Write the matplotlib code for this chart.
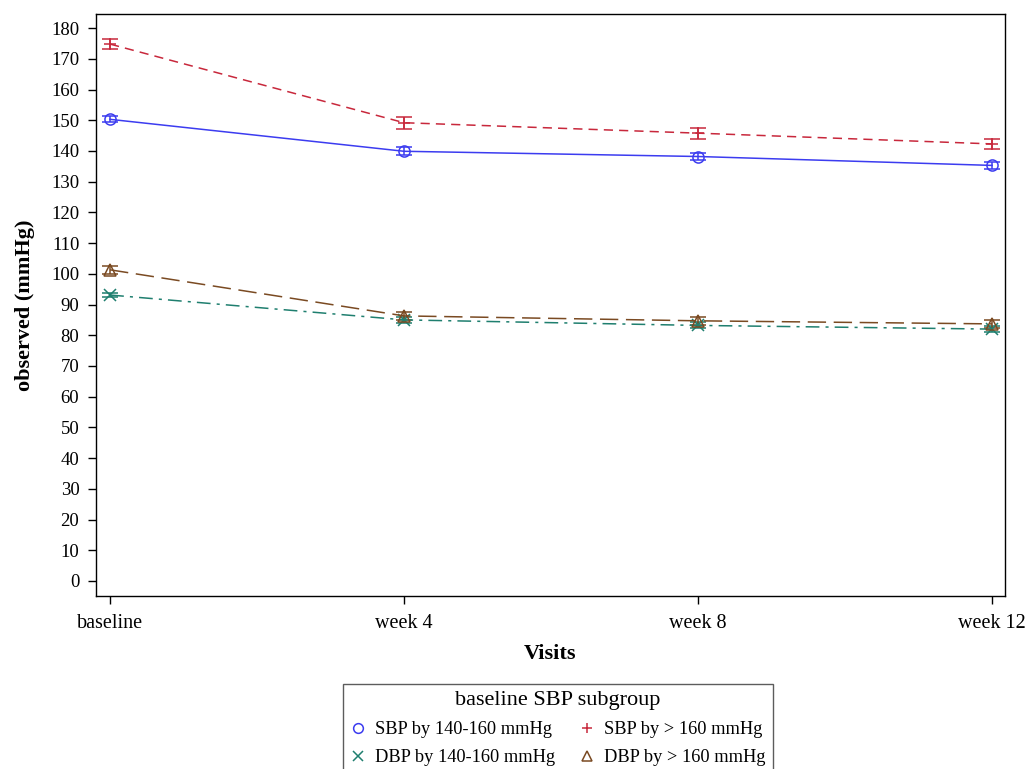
import matplotlib.pyplot as plt
import numpy as np

plt.rcParams['font.family'] = ['Liberation Serif', 'DejaVu Serif']

visits = ["baseline", "week 4", "week 8", "week 12"]

sbp_140_160 = [150.3, 139.9, 138.2, 135.3]
sbp_140_160_err = [1.0, 1.3, 1.3, 1.2]
sbp_gt_160 = [174.8, 149.2, 145.8, 142.3]
sbp_gt_160_err = [1.5, 2.0, 1.8, 1.7]
dbp_140_160 = [93.1, 85.0, 83.2, 82.0]
dbp_140_160_err = [0.8, 1.0, 1.0, 1.0]
dbp_gt_160 = [101.3, 86.3, 84.7, 83.7]
dbp_gt_160_err = [1.4, 1.3, 1.2, 1.2]

x = np.arange(len(visits))

fig = plt.figure(figsize=(10.27, 7.69), dpi=100)
ax = fig.add_axes([96 / 1027, 1 - 596 / 769, (1005 - 96) / 1027, (596 - 14) / 769])

series = [
    (sbp_140_160, sbp_140_160_err, "SBP by 140-160 mmHg", "#3c3cf0", "-", "o"),
    (sbp_gt_160, sbp_gt_160_err, "SBP by > 160 mmHg", "#c8283c", (0, (6, 4)), "+"),
    (dbp_140_160, dbp_140_160_err, "DBP by 140-160 mmHg", "#1f7f6f", (0, (9, 4, 2, 4)), "x"),
    (dbp_gt_160, dbp_gt_160_err, "DBP by > 160 mmHg", "#7a4a22", (0, (12, 5)), "^"),
]

handles = {}
for vals, err, lab, col, ls, mk in series:
    ax.errorbar(x, vals, yerr=err, color=col, linestyle=ls, linewidth=1.1,
                capsize=6, elinewidth=1.1, capthick=1.1,
                marker=mk, markersize=8, markerfacecolor='none', markeredgecolor=col,
                markeredgewidth=1.1)
    h, = ax.plot([], [], linestyle='none', marker=mk, markersize=7,
                 markerfacecolor='none', markeredgecolor=col, markeredgewidth=1.1)
    handles[lab] = h

ax.set_xlim(-0.048, 3.044)
ax.set_ylim(-4.9, 184.6)
ax.set_yticks(np.arange(0, 181, 10))
ax.set_xticks(x)
ax.set_xticklabels(visits)
ax.tick_params(axis='y', labelsize=13.5, length=6, width=1, pad=6)
ax.tick_params(axis='x', labelsize=14.5, length=6, width=1, pad=7)
ax.set_xlabel("Visits", fontsize=16, fontweight='bold', labelpad=8)
ax.set_ylabel("observed (mmHg)", fontsize=16, fontweight='bold', labelpad=12)
for s in ax.spines.values():
    s.set_linewidth(1)

order = ["SBP by 140-160 mmHg", "DBP by 140-160 mmHg", "SBP by > 160 mmHg", "DBP by > 160 mmHg"]
leg = fig.legend([handles[k] for k in order], order, ncol=2, loc='upper center',
                 bbox_to_anchor=(558 / 1027, 1 - 684 / 769), borderaxespad=0, fontsize=13.2,
                 title="baseline SBP subgroup", title_fontsize=16,
                 frameon=True, fancybox=False, edgecolor='#333333',
                 handlelength=0.8, handletextpad=0.55, columnspacing=1.3,
                 labelspacing=0.6, borderpad=0.4)
leg.get_frame().set_linewidth(1)

fig.savefig("out.png", dpi=100)
